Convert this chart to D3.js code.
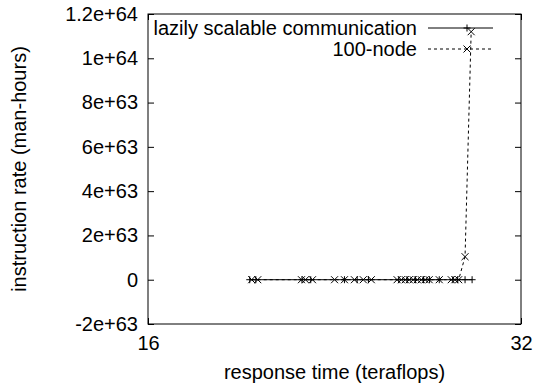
<!DOCTYPE html>
<html>
<head>
<meta charset="utf-8">
<script src="https://cdn.jsdelivr.net/npm/d3@7"></script>
<style>
  html, body { margin: 0; padding: 0; background: #fff; }
  svg { display: block; font-family: "Liberation Sans", Arial, sans-serif; }
</style>
</head>
<body>
<div id="chart"></div>
<script>
/* =========================
   Data
========================= */
const xTicks = [16, 32];
const yTicks = [-2e63, 0, 2e63, 4e63, 6e63, 8e63, 1e64, 1.2e64];

// lazily scalable communication (+ markers, solid line)
const lazyX = [19.33, 19.55, 21.30, 21.65, 23.05, 23.60, 24.10, 25.50, 25.90,
               26.30, 26.70, 27.00, 27.49, 28.20, 28.45, 28.84, 29.22];
const lazyY = [0, 0, 0, 0, 0, 0, 0, 0, 0, 0, 0, 0, 0, 0, 0, 0, 0];

// 100-node (x markers, dashed line)
const nodeX = [19.40, 19.62, 21.28, 21.44, 21.72, 22.63, 23.05, 23.48, 23.87,
               24.23, 25.42, 25.62, 25.81, 26.00, 26.19, 26.39, 26.59, 26.78,
               26.98, 27.49, 28.11, 28.30, 28.50, 28.84, 29.17];
const nodeY = [0, 0, 0, 0, 0, 0, 0, 0, 0, 0, 0, 0, 0, 0, 0, 0, 0, 0, 0, 0,
               0, 0, 0, 1.04e63, 1.12e64];

const seriesNames = ["lazily scalable communication", "100-node"];

/* =========================
   Layout
========================= */
const W = 534, H = 391;
const margin = { top: 14, right: 13, bottom: 67, left: 148 };
const fs = 20;

const svg = d3.select("#chart").append("svg")
    .attr("width", W)
    .attr("height", H);

const x = d3.scaleLog().base(2)
    .domain([16, 32])
    .range([margin.left, W - margin.right]);

const y = d3.scaleLinear()
    .domain([-2e63, 1.2e64])
    .range([H - margin.bottom, margin.top]);

const fmt = d => d === 0 ? "0" : d.toExponential();
const tick = 6;

// ticks on all four sides, like gnuplot's mirrored border
const yAxisL = d3.axisLeft(y).tickValues(yTicks).tickFormat(fmt).tickSizeInner(-tick).tickSizeOuter(0).tickPadding(10);
const yAxisR = d3.axisRight(y).tickValues(yTicks).tickFormat("").tickSizeInner(-tick).tickSizeOuter(0);
const xAxisB = d3.axisBottom(x).tickValues(xTicks).tickFormat(d3.format("d")).tickSizeInner(-tick).tickSizeOuter(0).tickPadding(12);
const xAxisT = d3.axisTop(x).tickValues(xTicks).tickFormat("").tickSizeInner(-tick).tickSizeOuter(0);

function styleAxis(g) {
    g.select(".domain").remove();
    g.selectAll("line").attr("stroke", "#000").attr("stroke-width", 1);
    g.selectAll("text").attr("font-size", fs).attr("fill", "#000")
        .attr("font-family", "'Liberation Sans', Arial, sans-serif");
}

svg.append("g").attr("transform", `translate(${margin.left},0)`).call(yAxisL).call(styleAxis);
svg.append("g").attr("transform", `translate(${W - margin.right},0)`).call(yAxisR).call(styleAxis);
svg.append("g").attr("transform", `translate(0,${H - margin.bottom})`).call(xAxisB).call(styleAxis);
svg.append("g").attr("transform", `translate(0,${margin.top})`).call(xAxisT).call(styleAxis);

// frame
svg.append("rect")
    .attr("x", margin.left)
    .attr("y", margin.top)
    .attr("width", W - margin.left - margin.right)
    .attr("height", H - margin.top - margin.bottom)
    .attr("fill", "none")
    .attr("stroke", "#000")
    .attr("stroke-width", 1);

// axis titles
svg.append("text")
    .attr("x", (margin.left + W - margin.right) / 2)
    .attr("y", 379)
    .attr("text-anchor", "middle")
    .attr("font-size", fs)
    .text("response time (teraflops)");

svg.append("text")
    .attr("transform", `translate(26,${(margin.top + H - margin.bottom) / 2}) rotate(-90)`)
    .attr("text-anchor", "middle")
    .attr("font-size", fs)
    .text("instruction rate (man-hours)");

/* =========================
   Series
========================= */
const lazy = lazyX.map((d, i) => ({ x: d, y: lazyY[i] }));
const node = nodeX.map((d, i) => ({ x: d, y: nodeY[i] }));

const line = d3.line().x(d => x(d.x)).y(d => y(d.y));
const ms = 3.5;

function plus(g, cx, cy) {
    g.append("path")
        .attr("d", `M${cx - ms},${cy}H${cx + ms}M${cx},${cy - ms}V${cy + ms}`)
        .attr("stroke", "#000").attr("stroke-width", 1).attr("fill", "none");
}
function cross(g, cx, cy) {
    g.append("path")
        .attr("d", `M${cx - ms},${cy - ms}L${cx + ms},${cy + ms}M${cx - ms},${cy + ms}L${cx + ms},${cy - ms}`)
        .attr("stroke", "#000").attr("stroke-width", 1).attr("fill", "none");
}

const gLazy = svg.append("g");
gLazy.append("path").datum(lazy)
    .attr("d", line)
    .attr("fill", "none")
    .attr("stroke", "#000")
    .attr("stroke-width", 1);
lazy.forEach(d => plus(gLazy, x(d.x), y(d.y)));

const gNode = svg.append("g");
gNode.append("path").datum(node)
    .attr("d", line)
    .attr("fill", "none")
    .attr("stroke", "#000")
    .attr("stroke-width", 1)
    .attr("stroke-dasharray", "3,3");
node.forEach(d => cross(gNode, x(d.x), y(d.y)));

/* =========================
   Legend
========================= */
const legY = [28, 49];
const legText = 417, legX0 = 428, legX1 = 493, legMid = 467;

seriesNames.forEach((name, i) => {
    svg.append("text")
        .attr("x", legText)
        .attr("y", legY[i])
        .attr("dy", "0.35em")
        .attr("text-anchor", "end")
        .attr("font-size", fs)
        .text(name);
    svg.append("line")
        .attr("x1", legX0).attr("x2", legX1)
        .attr("y1", legY[i]).attr("y2", legY[i])
        .attr("stroke", "#000")
        .attr("stroke-width", 1)
        .attr("stroke-dasharray", i === 1 ? "3,3" : null);
    if (i === 0) plus(svg, legMid, legY[i]);
    else cross(svg, legMid, legY[i]);
});
</script>
</body>
</html>
